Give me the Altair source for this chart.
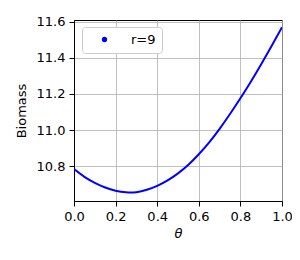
import altair as alt
import pandas as pd

# Values
theta = [0.0, 0.05, 0.1, 0.15, 0.2, 0.25, 0.3, 0.35, 0.4, 0.45, 0.5,
         0.55, 0.6, 0.65, 0.7, 0.75, 0.8, 0.85, 0.9, 0.95, 1.0]
biomass = [10.784, 10.741, 10.708, 10.682, 10.664, 10.655, 10.656, 10.669,
           10.691, 10.721, 10.760, 10.808, 10.866, 10.932, 11.007, 11.089,
           11.176, 11.268, 11.365, 11.466, 11.570]
series_name = "r=9"

x_ticks = [0.0, 0.2, 0.4, 0.6, 0.8, 1.0]
y_ticks = [10.8, 11.0, 11.2, 11.4, 11.6]
x_domain = [0.0, 1.0]
y_domain = [10.607, 11.61]

df = pd.DataFrame({"theta": theta, "biomass": biomass})
df["series"] = series_name

FONT = "DejaVu Sans"

chart = (
    alt.Chart(df)
    .mark_line(strokeWidth=2, interpolate="natural", clip=True)
    .encode(
        x=alt.X(
            "theta:Q",
            scale=alt.Scale(domain=x_domain, nice=False, zero=False),
            axis=alt.Axis(values=x_ticks, format=".1f", title="θ",
                          titleFontStyle="italic", titlePadding=4),
        ),
        y=alt.Y(
            "biomass:Q",
            scale=alt.Scale(domain=y_domain, nice=False, zero=False),
            axis=alt.Axis(values=y_ticks, format=".1f", title="Biomass",
                          titlePadding=8),
        ),
        color=alt.Color(
            "series:N",
            scale=alt.Scale(range=["blue"]),
            legend=alt.Legend(
                title=None,
                orient="none",
                legendX=8,
                legendY=7,
                padding=6,
                fillColor="white",
                strokeColor="#cccccc",
                cornerRadius=3,
                symbolType="circle",
                symbolSize=28,
                symbolFillColor="blue",
                symbolStrokeColor="blue",
                symbolStrokeWidth=0,
                symbolOffset=10,
                labelOffset=20,
                labelFontSize=13,
                labelFont=FONT,
                labelColor="black",
            ),
        ),
    )
    .properties(
        width=208,
        height=181,
        autosize=alt.AutoSizeParams(type="none"),
        padding={"left": 66, "top": 12, "right": 10, "bottom": 46},
    )
    .configure_view(stroke="black", strokeWidth=1)
    .configure_axis(
        grid=True,
        gridColor="#b0b0b0",
        gridWidth=0.8,
        domain=True,
        domainColor="black",
        domainWidth=1,
        tickColor="black",
        tickSize=5,
        tickWidth=1,
        labelFlush=False,
        labelFont=FONT,
        labelFontSize=13,
        labelColor="black",
        labelPadding=4,
        titleFont=FONT,
        titleFontSize=13,
        titleFontWeight="normal",
        titleColor="black",
    )
)

chart.save("out.html", embed_options={"renderer": "svg", "actions": False})
